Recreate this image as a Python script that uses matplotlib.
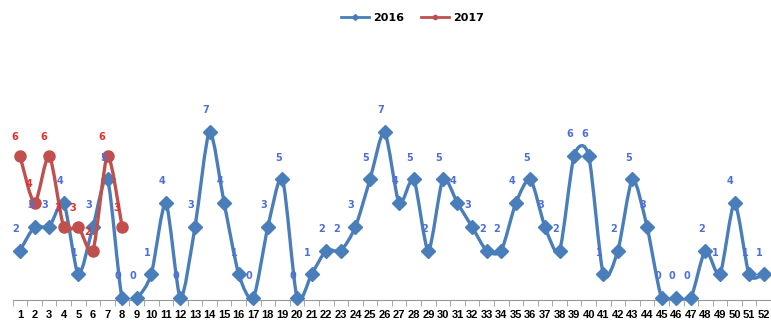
import numpy as np
import matplotlib
matplotlib.use('Agg')
import matplotlib.pyplot as plt
from matplotlib.path import Path
from matplotlib.patches import PathPatch
from matplotlib.lines import Line2D

weeks = list(range(1, 53))
cases_2016 = [2, 3, 3, 4, 1, 3, 5, 0, 0, 1, 4, 0, 3, 7, 4, 1, 0, 3, 5, 0,
              1, 2, 2, 3, 5, 7, 4, 5, 2, 5, 4, 3, 2, 2, 4, 5, 3, 2, 6, 6,
              1, 2, 5, 3, 0, 0, 0, 2, 1, 4, 1, 1]
weeks_2017 = [1, 2, 3, 4, 5, 6, 7, 8]
cases_2017 = [6, 4, 6, 3, 3, 2, 6, 3]

blue = '#4a7ebb'
red = '#c0504d'


def smooth_path(xs, ys, t=0.38):
    # excel-like smoothed line built from cubic bezier segments
    xs = np.asarray(xs, float)
    ys = np.asarray(ys, float)
    verts = [(xs[0], ys[0])]
    codes = [Path.MOVETO]
    n = len(xs)
    for i in range(n - 1):
        p0 = np.array([xs[max(i - 1, 0)], ys[max(i - 1, 0)]])
        p1 = np.array([xs[i], ys[i]])
        p2 = np.array([xs[i + 1], ys[i + 1]])
        p3 = np.array([xs[min(i + 2, n - 1)], ys[min(i + 2, n - 1)]])
        c1 = p1 + (p2 - p0) * t / 3
        c2 = p2 - (p3 - p1) * t / 3
        verts += [tuple(c1), tuple(c2), tuple(p2)]
        codes += [Path.CURVE4] * 3
    return Path(verts, codes)


fig = plt.figure(figsize=(7.71, 3.26), dpi=100)
ax = fig.add_axes([0.0165, 0.08, 0.9835, 0.74])

ax.add_patch(PathPatch(smooth_path(weeks, cases_2016), fill=False,
                       edgecolor=blue, lw=2.4, zorder=2))
ax.plot(weeks, cases_2016, 'D', color=blue, ms=7.5, zorder=3, clip_on=False)
ax.add_patch(PathPatch(smooth_path(weeks_2017, cases_2017), fill=False,
                       edgecolor=red, lw=2.4, zorder=4))
ax.plot(weeks_2017, cases_2017, 'o', color=red, ms=8, zorder=5, clip_on=False)

for w, v in zip(weeks, cases_2016):
    ax.annotate(str(v), (w, v), xytext=(-3, 12), textcoords='offset points',
                ha='center', va='bottom', fontsize=7, fontweight='bold',
                color='#4f6fd6', zorder=6)
for w, v in zip(weeks_2017, cases_2017):
    ax.annotate(str(v), (w, v), xytext=(-4, 10), textcoords='offset points',
                ha='center', va='bottom', fontsize=7, fontweight='bold',
                color='#e0302c', zorder=6)

ax.set_xlim(0.5, 52.5)
ax.set_ylim(-0.085, 10.1)
ax.set_xticks(weeks)
ax.set_xticklabels([str(w) for w in weeks], fontsize=8, fontweight='bold',
                   family=['Liberation Sans', 'DejaVu Sans'])
ax.set_xticks(np.arange(0.5, 53, 1), minor=True)
ax.tick_params(axis='x', which='major', length=0, pad=7)
ax.tick_params(axis='x', which='minor', length=4, color='#999999')
ax.set_yticks([])
for s in ['top', 'right', 'left']:
    ax.spines[s].set_visible(False)
ax.spines['bottom'].set_color('#999999')

handles = [Line2D([], [], color=blue, lw=2, marker='D', ms=3),
           Line2D([], [], color=red, lw=2, marker='o', ms=3)]
fig.legend(handles, ['2016', '2017'], loc='center', bbox_to_anchor=(0.535, 0.945),
           ncol=2, frameon=False, prop={'size': 8, 'weight': 'bold'},
           handlelength=2.5, columnspacing=1.5, handletextpad=0.4)

fig.savefig('out.png', dpi=100)
